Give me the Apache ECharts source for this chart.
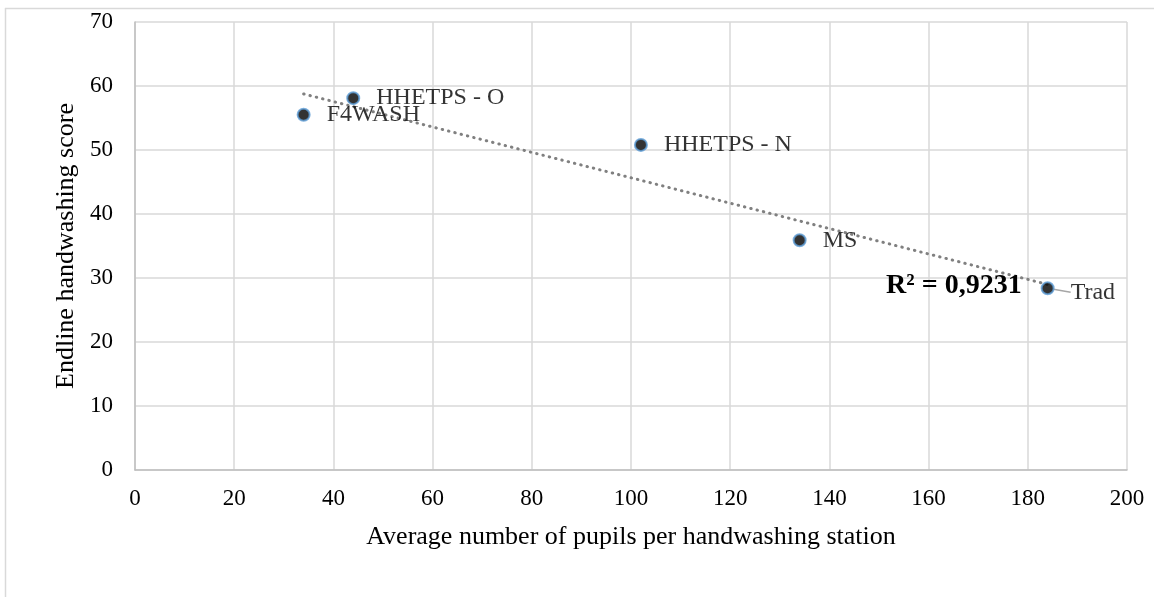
<!DOCTYPE html>
<html>
<head>
<meta charset="utf-8">
<script src="https://cdn.jsdelivr.net/npm/echarts@6/dist/echarts.min.js"></script>
<style>
html,body{margin:0;padding:0;background:#fff;}
#chart{width:1154px;height:597px;}
</style>
</head>
<body>
<div id="chart"></div>
<script>
// Data
const schoolNames = ['F4WASH', 'HHETPS - O', 'HHETPS - N', 'MS', 'Trad'];
const pupilsPerStation = [34, 44, 102, 134, 184];
const handwashingScore = [55.5, 58.1, 50.8, 35.9, 28.4];
const xTicks = {min: 0, max: 200, interval: 20};
const yTicks = {min: 0, max: 70, interval: 10};
const rSquaredText = 'R² = 0,9231';

// Linear trendline (least squares) computed from the data
const n = pupilsPerStation.length;
const mx = pupilsPerStation.reduce((a, b) => a + b, 0) / n;
const my = handwashingScore.reduce((a, b) => a + b, 0) / n;
let sxy = 0, sxx = 0;
for (let i = 0; i < n; i++) {
  sxy += (pupilsPerStation[i] - mx) * (handwashingScore[i] - my);
  sxx += (pupilsPerStation[i] - mx) ** 2;
}
const slope = sxy / sxx;
const intercept = my - slope * mx;
const xMin = Math.min(...pupilsPerStation), xMax = Math.max(...pupilsPerStation);
const trendData = [[xMin, intercept + slope * xMin], [xMax, intercept + slope * xMax]];

const font = 'Liberation Serif';
const txt = '#000000';

const points = pupilsPerStation.map((x, i) => {
  const item = {name: schoolNames[i], value: [x, handwashingScore[i]]};
  if (i === schoolNames.length - 1) {
    item.labelLine = {show: true, lineStyle: {color: '#a6a6a6', width: 1.5}};
  }
  return item;
});

const chart = echarts.init(document.getElementById('chart'), null, {renderer: 'canvas'});
chart.setOption({
  animation: false,
  backgroundColor: '#ffffff',
  graphic: [
    {type: 'line', shape: {x1: 5, y1: 8.5, x2: 1154, y2: 8.5}, style: {stroke: '#d9d9d9', lineWidth: 1.5}, silent: true},
    {type: 'line', shape: {x1: 5.5, y1: 8, x2: 5.5, y2: 597}, style: {stroke: '#d9d9d9', lineWidth: 1.5}, silent: true}
  ],
  grid: {left: 135, right: 27, top: 22, bottom: 127, containLabel: false},
  xAxis: {
    type: 'value',
    min: xTicks.min, max: xTicks.max, interval: xTicks.interval,
    name: 'Average number of pupils per handwashing station',
    nameLocation: 'middle', nameGap: 54,
    nameTextStyle: {fontFamily: font, fontSize: 26, color: txt},
    axisLine: {show: true, onZero: false, lineStyle: {color: '#bfbfbf', width: 1.5}},
    axisTick: {show: false},
    axisLabel: {fontFamily: font, fontSize: 23, color: txt, margin: 17},
    splitLine: {show: true, lineStyle: {color: '#d9d9d9', width: 1.5}}
  },
  yAxis: {
    type: 'value',
    min: yTicks.min, max: yTicks.max, interval: yTicks.interval,
    name: 'Endline handwashing score',
    nameLocation: 'middle', nameGap: 52,
    nameTextStyle: {fontFamily: font, fontSize: 26, color: txt},
    axisLine: {show: true, onZero: false, lineStyle: {color: '#bfbfbf', width: 1.5}},
    axisTick: {show: false},
    axisLabel: {fontFamily: font, fontSize: 23, color: txt, margin: 22},
    splitLine: {show: true, lineStyle: {color: '#d9d9d9', width: 1.5}}
  },
  series: [
    {
      type: 'line',
      data: trendData,
      symbol: 'none',
      z: 3,
      lineStyle: {color: '#808080', width: 3, type: [0.5, 6], cap: 'round'},
      endLabel: {
        show: true,
        formatter: rSquaredText,
        distance: 0,
        align: 'right',
        verticalAlign: 'middle',
        offset: [-26, 1],
        fontFamily: font, fontSize: 28, fontWeight: 'bold', color: txt
      }
    },
    {
      type: 'scatter',
      data: points,
      symbol: 'circle',
      symbolSize: 12,
      z: 4,
      itemStyle: {color: '#000000', borderColor: '#5b9bd5', borderWidth: 2},
      label: {
        show: true,
        position: 'right',
        distance: 16,
        formatter: p => p.name,
        fontFamily: font, fontSize: 24, color: txt
      },
      labelLine: {show: false},
      labelLayout: p => (p.dataIndex === 4 ? {dy: 4} : {})
    }
  ]
});
</script>
</body>
</html>
